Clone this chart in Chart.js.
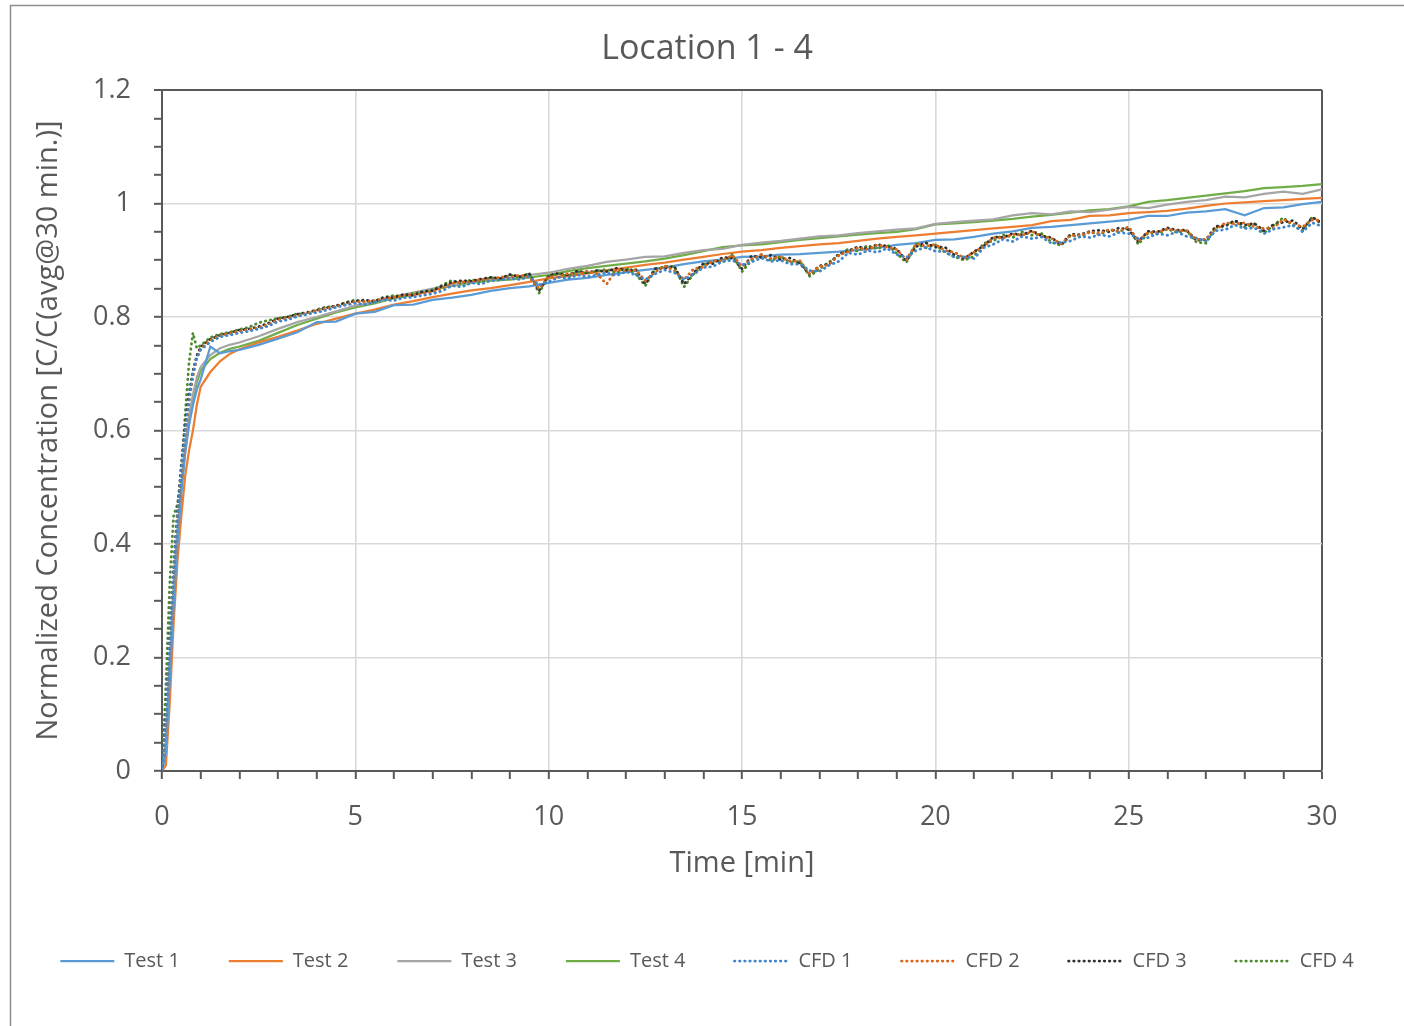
<!DOCTYPE html>
<html>
<head>
<meta charset="utf-8">
<script src="https://cdn.jsdelivr.net/npm/chart.js@4.4.1/dist/chart.umd.min.js"></script>
<style>
  html, body { margin: 0; padding: 0; background: #ffffff; }
  #wrap { position: relative; width: 1404px; height: 1026px; }
</style>
</head>
<body>
<div id="wrap"><canvas id="c"></canvas></div>
<script>
// ---------- DATA ----------
const chartTitle = "Location 1 - 4";
const xTitle = "Time [min]";
const yTitle = "Normalized Concentration [C/C(avg@30 min.)]";
const seriesNames = ["Test 1", "Test 2", "Test 3", "Test 4", "CFD 1", "CFD 2", "CFD 3", "CFD 4"];

// time grid for measured tests (min)
const tTest = [0, 0.1, 0.2, 0.3, 0.4, 0.5, 0.6, 0.7, 0.8, 0.9, 1, 1.25, 1.5, 1.75, 2,
  2.5, 3, 3.5, 4, 4.5, 5, 5.5, 6, 6.5, 7, 7.5, 8, 8.5, 9, 9.5, 10, 10.5, 11, 11.5, 12,
  12.5, 13, 13.5, 14, 14.5, 15, 15.5, 16, 16.5, 17, 17.5, 18, 18.5, 19, 19.5, 20,
  20.5, 21, 21.5, 22, 22.5, 23, 23.5, 24, 24.5, 25, 25.5, 26, 26.5, 27, 27.5, 28,
  28.5, 29, 29.5, 30];

const test1 = [0, 0.03, 0.16, 0.29, 0.40, 0.49, 0.56, 0.61, 0.645, 0.672, 0.69, 0.748, 0.736, 0.740, 0.742,
  0.751, 0.762, 0.773, 0.791, 0.792, 0.806, 0.809, 0.821, 0.822, 0.830,
  0.834, 0.839, 0.846, 0.851, 0.854, 0.860, 0.866, 0.869, 0.874, 0.879,
  0.883, 0.887, 0.893, 0.898, 0.901, 0.906, 0.907, 0.910, 0.911, 0.913,
  0.915, 0.918, 0.922, 0.927, 0.930, 0.936, 0.937, 0.941, 0.947, 0.951,
  0.957, 0.959, 0.962, 0.965, 0.968, 0.971, 0.978, 0.978, 0.984, 0.986,
  0.990, 0.979, 0.992, 0.993, 0.999, 1.003];

const test2 = [0, 0.01, 0.12, 0.26, 0.37, 0.45, 0.52, 0.565, 0.60, 0.645, 0.677, 0.703, 0.722, 0.735, 0.743,
  0.755, 0.765, 0.776, 0.788, 0.797, 0.806, 0.813, 0.822, 0.828, 0.835,
  0.841, 0.847, 0.851, 0.856, 0.862, 0.868, 0.872, 0.877, 0.882, 0.887,
  0.892, 0.896, 0.901, 0.906, 0.911, 0.915, 0.918, 0.922, 0.925, 0.928,
  0.930, 0.934, 0.938, 0.941, 0.944, 0.947, 0.950, 0.953, 0.956, 0.959,
  0.962, 0.969, 0.971, 0.978, 0.979, 0.983, 0.985, 0.987, 0.991, 0.996,
  1.000, 1.002, 1.004, 1.006, 1.008, 1.010];

const test3 = [0, 0.04, 0.18, 0.31, 0.42, 0.50, 0.575, 0.625, 0.663, 0.693, 0.712, 0.733, 0.745, 0.751, 0.755,
  0.766, 0.779, 0.791, 0.800, 0.810, 0.820, 0.826, 0.836, 0.843, 0.850,
  0.856, 0.862, 0.867, 0.870, 0.874, 0.878, 0.885, 0.890, 0.897, 0.901,
  0.906, 0.907, 0.913, 0.918, 0.920, 0.927, 0.931, 0.934, 0.938, 0.942,
  0.944, 0.948, 0.951, 0.954, 0.956, 0.964, 0.967, 0.970, 0.972, 0.979,
  0.983, 0.981, 0.986, 0.985, 0.989, 0.994, 0.992, 0.998, 1.003, 1.006,
  1.012, 1.011, 1.017, 1.021, 1.017, 1.025];

const test4 = [0, 0.05, 0.19, 0.32, 0.42, 0.50, 0.565, 0.615, 0.655, 0.685, 0.705, 0.726, 0.737, 0.744, 0.748,
  0.758, 0.772, 0.786, 0.797, 0.808, 0.817, 0.824, 0.833, 0.840, 0.848,
  0.855, 0.860, 0.864, 0.866, 0.870, 0.874, 0.881, 0.886, 0.890, 0.894,
  0.898, 0.903, 0.909, 0.916, 0.923, 0.926, 0.928, 0.932, 0.936, 0.939,
  0.942, 0.945, 0.948, 0.950, 0.955, 0.963, 0.965, 0.967, 0.970, 0.973,
  0.977, 0.980, 0.984, 0.988, 0.990, 0.995, 1.003, 1.006, 1.010, 1.014,
  1.018, 1.022, 1.027, 1.029, 1.031, 1.034];

// time grid for CFD results (min)
const tCFD = [0, 0.1, 0.2, 0.3, 0.4, 0.5, 0.6, 0.7, 0.8, 0.9, 1,
  1.25, 1.5, 1.75, 2, 2.25, 2.5, 2.75, 3, 3.25, 3.5, 3.75, 4, 4.25, 4.5, 4.75, 5,
  5.25, 5.5, 5.75, 6, 6.25, 6.5, 6.75, 7, 7.25, 7.5, 7.75, 8, 8.25, 8.5, 8.75, 9,
  9.25, 9.5, 9.75, 10, 10.25, 10.5, 10.75, 11, 11.25, 11.5, 11.75, 12, 12.25, 12.5, 12.75, 13,
  13.25, 13.5, 13.75, 14, 14.25, 14.5, 14.75, 15, 15.25, 15.5, 15.75, 16, 16.25, 16.5, 16.75, 17,
  17.25, 17.5, 17.75, 18, 18.25, 18.5, 18.75, 19, 19.25, 19.5, 19.75, 20, 20.25, 20.5, 20.75, 21,
  21.25, 21.5, 21.75, 22, 22.25, 22.5, 22.75, 23, 23.25, 23.5, 23.75, 24, 24.25, 24.5, 24.75, 25,
  25.25, 25.5, 25.75, 26, 26.25, 26.5, 26.75, 27, 27.25, 27.5, 27.75, 28, 28.25, 28.5, 28.75, 29,
  29.25, 29.5, 29.75, 30];

const cfd1 = [0, 0.09, 0.23, 0.35, 0.45, 0.53, 0.60, 0.655, 0.70, 0.728, 0.742,
  0.756, 0.765, 0.768, 0.772, 0.775, 0.779, 0.784, 0.792, 0.795, 0.801, 0.805, 0.808,
  0.812, 0.817, 0.821, 0.824, 0.822, 0.826, 0.830, 0.829, 0.834, 0.835, 0.838, 0.841,
  0.846, 0.855, 0.853, 0.860, 0.858, 0.864, 0.865, 0.868, 0.866, 0.871, 0.856, 0.862,
  0.870, 0.868, 0.874, 0.871, 0.874, 0.878, 0.873, 0.880, 0.874, 0.866, 0.876, 0.883,
  0.878, 0.866, 0.875, 0.887, 0.889, 0.898, 0.900, 0.892, 0.897, 0.904, 0.898, 0.900,
  0.893, 0.893, 0.882, 0.880, 0.891, 0.898, 0.913, 0.910, 0.917, 0.914, 0.921, 0.910,
  0.905, 0.917, 0.923, 0.916, 0.915, 0.905, 0.906, 0.903, 0.922, 0.928, 0.937, 0.933,
  0.942, 0.938, 0.941, 0.930, 0.931, 0.934, 0.942, 0.940, 0.945, 0.942, 0.949, 0.947,
  0.938, 0.940, 0.947, 0.944, 0.950, 0.942, 0.939, 0.934, 0.952, 0.954, 0.962, 0.956,
  0.957, 0.947, 0.955, 0.958, 0.962, 0.950, 0.966, 0.960];

const cfd2 = [0, 0.08, 0.22, 0.34, 0.44, 0.52, 0.59, 0.65, 0.695, 0.727, 0.744,
  0.759, 0.767, 0.771, 0.775, 0.778, 0.781, 0.787, 0.795, 0.798, 0.802, 0.807, 0.811,
  0.815, 0.819, 0.822, 0.827, 0.827, 0.829, 0.832, 0.835, 0.837, 0.839, 0.841, 0.844,
  0.851, 0.859, 0.862, 0.861, 0.867, 0.864, 0.871, 0.869, 0.874, 0.870, 0.850, 0.871,
  0.871, 0.877, 0.875, 0.881, 0.876, 0.858, 0.884, 0.880, 0.883, 0.864, 0.879, 0.890,
  0.882, 0.866, 0.885, 0.888, 0.899, 0.899, 0.909, 0.889, 0.902, 0.910, 0.903, 0.906,
  0.898, 0.899, 0.876, 0.889, 0.892, 0.909, 0.915, 0.922, 0.919, 0.927, 0.923, 0.919,
  0.901, 0.929, 0.925, 0.928, 0.917, 0.914, 0.904, 0.914, 0.924, 0.940, 0.939, 0.946,
  0.944, 0.951, 0.942, 0.939, 0.929, 0.944, 0.944, 0.950, 0.947, 0.954, 0.951, 0.959,
  0.934, 0.949, 0.949, 0.955, 0.952, 0.952, 0.937, 0.937, 0.954, 0.966, 0.964, 0.966,
  0.959, 0.956, 0.957, 0.972, 0.964, 0.959, 0.971, 0.970];

const cfd3 = [0, 0.10, 0.24, 0.36, 0.46, 0.54, 0.61, 0.665, 0.705, 0.732, 0.747,
  0.761, 0.768, 0.772, 0.777, 0.779, 0.783, 0.789, 0.797, 0.800, 0.805, 0.808, 0.812,
  0.816, 0.820, 0.825, 0.828, 0.830, 0.828, 0.835, 0.834, 0.840, 0.838, 0.845, 0.846,
  0.855, 0.861, 0.864, 0.863, 0.867, 0.870, 0.868, 0.875, 0.871, 0.876, 0.846, 0.873,
  0.877, 0.874, 0.881, 0.878, 0.882, 0.880, 0.886, 0.882, 0.884, 0.858, 0.885, 0.886,
  0.889, 0.858, 0.878, 0.894, 0.894, 0.905, 0.904, 0.885, 0.908, 0.905, 0.909, 0.901,
  0.904, 0.894, 0.875, 0.890, 0.893, 0.911, 0.916, 0.924, 0.920, 0.928, 0.924, 0.920,
  0.899, 0.924, 0.931, 0.923, 0.923, 0.909, 0.903, 0.915, 0.925, 0.941, 0.940, 0.947,
  0.945, 0.952, 0.943, 0.940, 0.928, 0.946, 0.945, 0.951, 0.953, 0.950, 0.957, 0.954,
  0.933, 0.951, 0.950, 0.957, 0.953, 0.953, 0.935, 0.936, 0.960, 0.961, 0.970, 0.962,
  0.965, 0.952, 0.963, 0.967, 0.970, 0.955, 0.975, 0.966];

const cfd4 = [0, 0.15, 0.33, 0.45, 0.47, 0.52, 0.63, 0.72, 0.772, 0.745, 0.75,
  0.764, 0.770, 0.773, 0.778, 0.782, 0.790, 0.794, 0.798, 0.800, 0.806, 0.804, 0.813,
  0.818, 0.817, 0.826, 0.830, 0.828, 0.826, 0.835, 0.838, 0.836, 0.842, 0.844, 0.848,
  0.856, 0.865, 0.858, 0.866, 0.862, 0.870, 0.866, 0.874, 0.870, 0.877, 0.842, 0.872,
  0.876, 0.872, 0.880, 0.877, 0.881, 0.884, 0.878, 0.886, 0.876, 0.855, 0.884, 0.889,
  0.889, 0.853, 0.876, 0.892, 0.899, 0.896, 0.910, 0.880, 0.900, 0.910, 0.899, 0.907,
  0.896, 0.898, 0.872, 0.884, 0.897, 0.908, 0.920, 0.916, 0.926, 0.920, 0.928, 0.912,
  0.896, 0.929, 0.922, 0.927, 0.914, 0.906, 0.900, 0.907, 0.930, 0.934, 0.945, 0.940,
  0.950, 0.944, 0.947, 0.932, 0.926, 0.944, 0.941, 0.950, 0.945, 0.954, 0.950, 0.958,
  0.928, 0.948, 0.946, 0.955, 0.949, 0.952, 0.932, 0.930, 0.958, 0.960, 0.969, 0.958,
  0.964, 0.948, 0.962, 0.975, 0.961, 0.952, 0.977, 0.963];

// axis tick definitions
const xMin = 0, xMax = 30, xMinorStep = 1, xMajorStep = 5;
const yMin = 0, yMax = 1.2, yMinorStep = 0.05, yMajorStep = 0.2;

// ---------- STYLE ----------
const FONT = "'Open Sans', 'Noto Sans', sans-serif";
const TEXT = '#595959';
const AXIS = '#595959';
const GRID = '#d9d9d9';
const colors = ['#5B9BD5', '#ED7D31', '#A5A5A5', '#70AD47', '#3F86CC', '#D8661C', '#303030', '#4E8A2E'];

function isMult(v, m) { return Math.abs(v / m - Math.round(v / m)) < 1e-6; }
function pts(ts, ys) { return ts.map((t, i) => ({ x: t, y: ys[i] })); }

const testSeries = [test1, test2, test3, test4];
const cfdSeries = [cfd1, cfd2, cfd3, cfd4];

const datasets = [];
testSeries.forEach((arr, i) => {
  datasets.push({
    label: seriesNames[i], data: pts(tTest, arr), showLine: true,
    borderColor: colors[i], backgroundColor: colors[i], borderWidth: 2.25,
    pointRadius: 0, tension: 0, order: 2, borderDash: [], borderCapStyle: 'butt'
  });
});
cfdSeries.forEach((arr, i) => {
  datasets.push({
    label: seriesNames[4 + i], data: pts(tCFD, arr), showLine: true,
    borderColor: colors[4 + i], backgroundColor: colors[4 + i], borderWidth: 2.75,
    pointRadius: 0, tension: 0, order: 1, borderDash: [0.5, 4.6], borderCapStyle: 'round'
  });
});

const bgPlugin = {
  id: 'bg',
  beforeDraw(chart) {
    const ctx = chart.ctx;
    ctx.save();
    ctx.fillStyle = '#ffffff';
    ctx.fillRect(0, 0, chart.width, chart.height);
    ctx.strokeStyle = '#8e8e8e';
    ctx.lineWidth = 1.5;
    ctx.beginPath();
    ctx.moveTo(10.5, chart.height);
    ctx.lineTo(10.5, 5.5);
    ctx.lineTo(chart.width, 5.5);
    ctx.stroke();
    ctx.restore();
  }
};

new Chart(document.getElementById('c'), {
  type: 'scatter',
  data: { datasets },
  options: {
    responsive: true,
    maintainAspectRatio: false,
    devicePixelRatio: 1,
    animation: false,
    events: [],
    layout: { padding: { left: 10, right: 0, top: 0, bottom: 45 } },
    plugins: {
      tooltip: { enabled: false },
      title: {
        display: true, text: chartTitle, color: TEXT,
        font: { family: FONT, size: 34, weight: 'normal', lineHeight: 1.2 },
        padding: { top: 28.6, bottom: 20.6 }
      },
      legend: {
        position: 'bottom',
        labels: {
          usePointStyle: true,
          pointStyleWidth: 54,
          boxHeight: 8,
          padding: 49,
          color: TEXT,
          font: { family: FONT, size: 20 },
          generateLabels(chart) {
            return chart.data.datasets.map((ds, i) => ({
              text: ds.label,
              fillStyle: ds.borderColor,
              strokeStyle: ds.borderColor,
              lineWidth: ds.borderWidth,
              lineDash: ds.borderDash,
              lineCap: ds.borderCapStyle,
              pointStyle: 'line',
              fontColor: TEXT,
              hidden: false,
              datasetIndex: i
            }));
          }
        }
      }
    },
    scales: {
      x: {
        type: 'linear', position: 'bottom', min: xMin, max: xMax,
        afterFit(s) { s.height = 131; },
        ticks: {
          stepSize: xMinorStep, autoSkip: false, maxRotation: 0, padding: 22,
          color: TEXT, font: { family: FONT, size: 27 },
          callback: (v) => isMult(v, xMajorStep) ? String(Math.round(v)) : ''
        },
        grid: {
          color: (c) => {
            const v = c.tick ? c.tick.value : 0;
            if (Math.abs(v - xMax) < 1e-6) return AXIS;
            return isMult(v, xMajorStep) ? GRID : 'rgba(0,0,0,0)';
          },
          lineWidth: (c) => {
            const v = c.tick ? c.tick.value : 0;
            return Math.abs(v - xMax) < 1e-6 ? 2 : 1.6;
          },
          tickColor: AXIS, tickWidth: 2, tickLength: 8
        },
        border: { display: true, color: AXIS, width: 2 },
        title: {
          display: true, text: xTitle, color: TEXT,
          font: { family: FONT, size: 29, lineHeight: 1.2 },
          padding: { top: 0, bottom: 20.6 }
        }
      },
      y: {
        type: 'linear', position: 'left', min: yMin, max: yMax,
        afterFit(s) { s.width = 152; },
        ticks: {
          stepSize: yMinorStep, autoSkip: false, padding: 23,
          color: TEXT, font: { family: FONT, size: 27 },
          callback: (v) => isMult(v, yMajorStep) ? String(Math.round(v * 10) / 10) : ''
        },
        grid: {
          color: (c) => {
            const v = c.tick ? c.tick.value : 0;
            if (Math.abs(v - yMax) < 1e-6) return AXIS;
            return isMult(v, yMajorStep) ? GRID : 'rgba(0,0,0,0)';
          },
          lineWidth: (c) => {
            const v = c.tick ? c.tick.value : 0;
            return Math.abs(v - yMax) < 1e-6 ? 2 : 1.6;
          },
          tickColor: AXIS, tickWidth: 2, tickLength: 8
        },
        border: { display: true, color: AXIS, width: 2 },
        title: {
          display: true, text: yTitle, color: TEXT,
          font: { family: FONT, size: 29, lineHeight: 1.2 },
          padding: { top: 21.6, bottom: 0 }
        }
      },
      y2: {
        type: 'linear', position: 'right', min: yMin, max: yMax, display: true,
        afterFit(s) { s.width = 82; },
        ticks: { display: false },
        grid: { drawOnChartArea: false, drawTicks: false },
        border: { display: false }
      }
    }
  },
  plugins: [bgPlugin]
});
</script>
</body>
</html>
